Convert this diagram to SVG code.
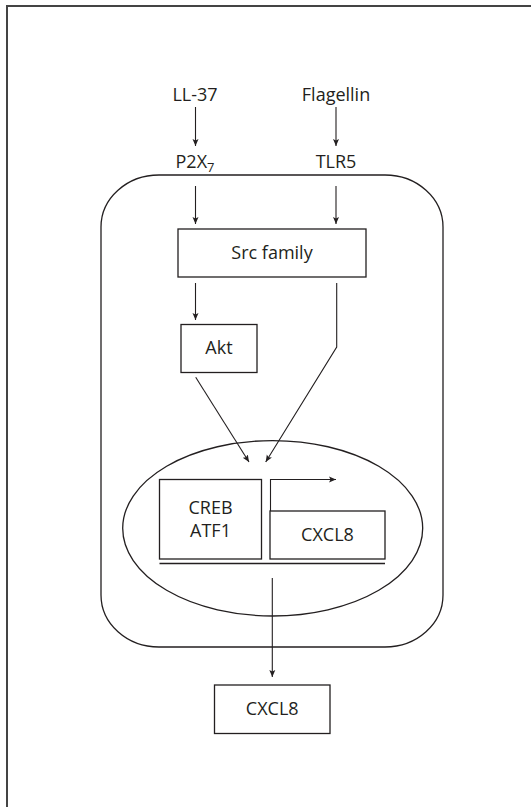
<svg xmlns="http://www.w3.org/2000/svg" width="531" height="807" viewBox="0 0 531 807">
<defs>
<marker id="ah" markerWidth="8" markerHeight="8" refX="7" refY="4" orient="auto" markerUnits="userSpaceOnUse">
<path d="M0,1 L7,4 L0,7 L1.5,4 Z" fill="#231f20"/>
</marker>
</defs>
<style>
.t{font-family:"Open Sans","Noto Sans","Liberation Sans",sans-serif;font-size:18px;fill:#231f20;text-anchor:middle}
.b{fill:none;stroke:#231f20;stroke-width:1.3}
.a{fill:none;stroke:#231f20;stroke-width:1.1;marker-end:url(#ah)}
</style>
<rect width="531" height="807" fill="#fff"/>
<path d="M7,807 V6 H531" fill="none" stroke="#444" stroke-width="2"/>
<g id="cell"><rect class="b" x="101" y="175" width="342" height="472" rx="58" ry="52"/></g>
<g id="nucleus"><ellipse class="b" cx="272.7" cy="528.3" rx="150" ry="87.7"/></g>
<g id="ll37"><text class="t" x="195" y="101">LL-37</text></g>
<g id="flagellin"><text class="t" x="336" y="101">Flagellin</text></g>
<g id="p2x7"><text class="t" x="195" y="168">P2X<tspan font-size="13" dy="4">7</tspan></text></g>
<g id="tlr5"><text class="t" x="336" y="168">TLR5</text></g>
<g id="src"><rect class="b" x="178" y="229" width="188" height="48"/><text class="t" x="272" y="259">Src family</text></g>
<g id="akt"><rect class="b" x="181" y="324.5" width="76" height="48"/><text class="t" x="219" y="354">Akt</text></g>
<g id="creb"><rect class="b" x="159.5" y="479.5" width="102" height="79.5"/><text class="t" x="210.5" y="514">CREB</text><text class="t" x="210.5" y="537">ATF1</text></g>
<g id="cxcl8gene"><rect class="b" x="270" y="511" width="115" height="48"/><text class="t" x="327.5" y="541">CXCL8</text></g>
<g id="dna"><line class="b" x1="159.5" y1="563.5" x2="385" y2="563.5"/></g>
<g id="cxcl8"><rect class="b" x="214.5" y="685" width="115.5" height="48.5"/><text class="t" x="272.2" y="715">CXCL8</text></g>
<g id="connectors">
<line class="a" x1="195.5" y1="107" x2="195.5" y2="146"/>
<line class="a" x1="336" y1="107" x2="336" y2="146"/>
<line class="a" x1="195.5" y1="186" x2="195.5" y2="224"/>
<line class="a" x1="336" y1="186" x2="336" y2="224"/>
<line class="a" x1="195.5" y1="283" x2="195.5" y2="320"/>
<polyline class="a" points="336.7,283 336.7,347 265.7,462"/>
<line class="a" x1="195.7" y1="377.3" x2="249" y2="462"/>
<polyline class="a" points="270.5,511 270.5,479.5 336,479.5"/>
<line class="a" x1="272.3" y1="578" x2="272.3" y2="677"/>
</g>
</svg>
